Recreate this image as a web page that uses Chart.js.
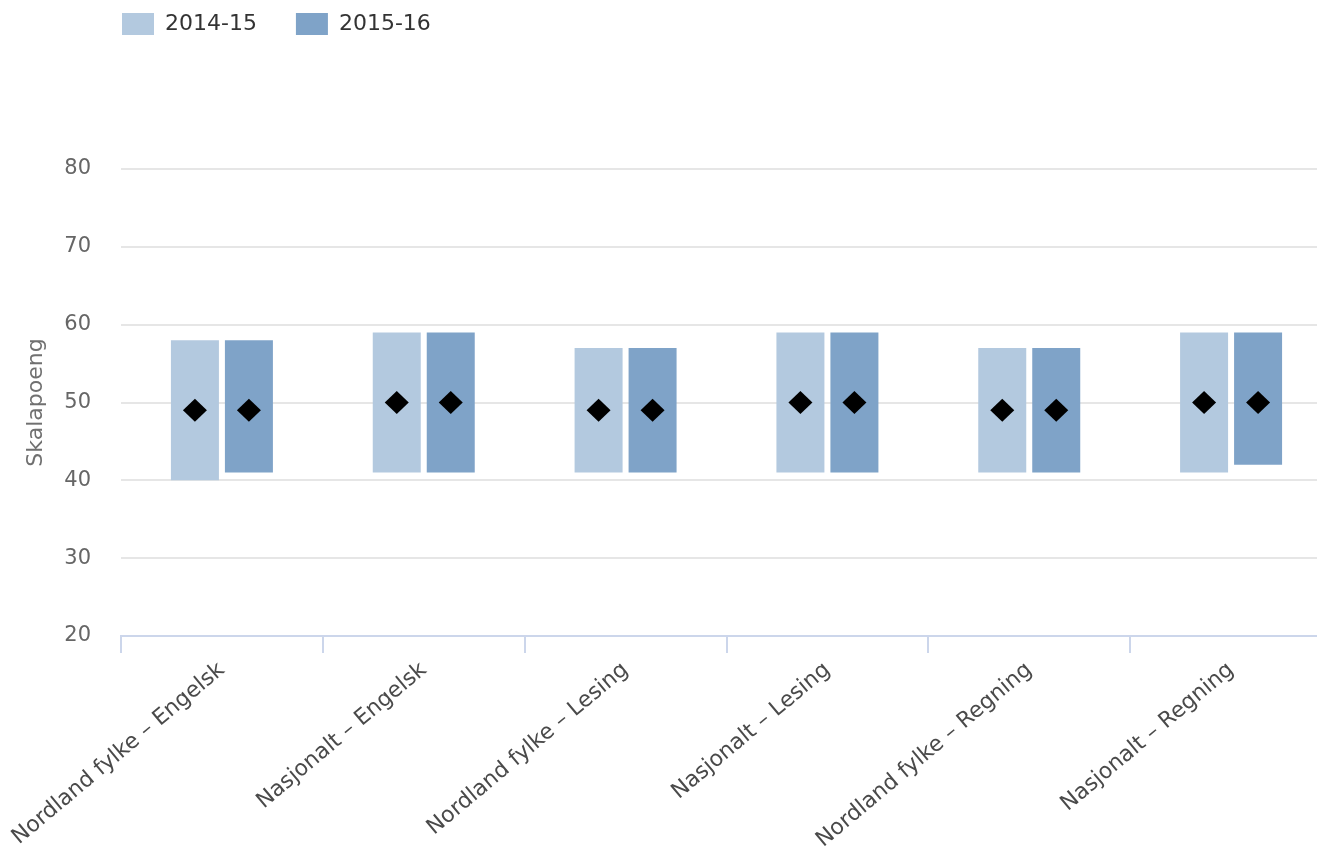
<!DOCTYPE html>
<html>
<head>
<meta charset="utf-8">
<script src="https://cdn.jsdelivr.net/npm/chart.js@4/dist/chart.umd.min.js"></script>
<style>
  html, body { margin: 0; padding: 0; overflow: hidden; background: #ffffff; }
  #wrap { width: 1332px; height: 857px; position: relative; }
</style>
</head>
<body>
<div id="wrap"><canvas id="chart"></canvas></div>
<script>
// Categories on the x axis
const categories = [
  'Nordland fylke – Engelsk',
  'Nasjonalt – Engelsk',
  'Nordland fylke – Lesing',
  'Nasjonalt – Lesing',
  'Nordland fylke – Regning',
  'Nasjonalt – Regning'
];
const seriesNames = ['2014-15', '2015-16'];

// Range (low–high) and mean per category, school year 2014-15
const low2014  = [40, 41, 41, 41, 41, 41];
const high2014 = [58, 59, 57, 59, 57, 59];
const mean2014 = [49, 50, 49, 50, 49, 50];

// Range (low–high) and mean per category, school year 2015-16
const low2015  = [41, 41, 41, 41, 41, 42];
const high2015 = [58, 59, 57, 59, 57, 59];
const mean2015 = [49, 50, 49, 50, 49, 50];

// Y axis
const yMin = 20, yMax = 80, yStep = 10;
const yTitle = 'Skalapoeng';

const FONT = 'DejaVu Sans';
const seriesColors = ['#b3c9df', '#7fa3c8'];
const means = [mean2014, mean2015];

const ranges = (lo, hi) => lo.map((v, i) => [v, hi[i]]);

// Black diamond at each bar's mean value
const meanDiamonds = {
  id: 'meanDiamonds',
  afterDatasetsDraw(chart) {
    const { ctx } = chart;
    const y = chart.scales.y;
    chart.data.datasets.forEach((ds, d) => {
      const meta = chart.getDatasetMeta(d);
      if (meta.hidden) return;
      meta.data.forEach((bar, i) => {
        const cx = bar.x;
        const cy = y.getPixelForValue(means[d][i]);
        ctx.save();
        ctx.beginPath();
        ctx.moveTo(cx, cy - 11.5);
        ctx.lineTo(cx + 12, cy);
        ctx.lineTo(cx, cy + 11.5);
        ctx.lineTo(cx - 12, cy);
        ctx.closePath();
        ctx.fillStyle = '#000000';
        ctx.fill();
        ctx.restore();
      });
    });
  }
};

// Place the legend row above the plot's left edge
const legendPlacement = {
  id: 'legendPlacement',
  afterLayout(chart) {
    const lg = chart.legend;
    if (!lg) return;
    lg.left += 83; lg.right += 83;
    lg.top -= 26; lg.bottom -= 26;
  }
};

new Chart(document.getElementById('chart'), {
  type: 'bar',
  data: {
    labels: categories,
    datasets: [
      {
        label: seriesNames[0],
        data: ranges(low2014, high2014),
        backgroundColor: seriesColors[0],
        borderSkipped: false,
        barPercentage: 0.889,
        categoryPercentage: 0.535
      },
      {
        label: seriesNames[1],
        data: ranges(low2015, high2015),
        backgroundColor: seriesColors[1],
        borderSkipped: false,
        barPercentage: 0.889,
        categoryPercentage: 0.535
      }
    ]
  },
  options: {
    responsive: true,
    maintainAspectRatio: false,
    animation: false,
    layout: { padding: 0 },
    plugins: {
      tooltip: { enabled: false },
      legend: {
        position: 'top',
        align: 'start',
        labels: {
          boxWidth: 32,
          boxHeight: 22,
          padding: 39,
          color: '#333333',
          font: { family: FONT, size: 22 }
        }
      },
      title: {
        display: true,
        text: '',
        weight: 500,
        font: { family: FONT, size: 10, lineHeight: 1 },
        padding: { top: 0, bottom: 88 }
      }
    },
    scales: {
      x: {
        type: 'category',
        offset: true,
        grid: {
          offset: true,
          drawOnChartArea: false,
          color: '#ccd6eb',
          lineWidth: 2,
          tickLength: 17
        },
        border: { color: '#ccd6eb', width: 2 },
        ticks: {
          minRotation: 40,
          maxRotation: 40,
          autoSkip: false,
          color: '#4a4a4a',
          padding: 4,
          font: { family: FONT, size: 22 }
        },
        afterFit(scale) { scale.height = 221; }
      },
      y: {
        min: yMin,
        max: yMax,
        ticks: {
          stepSize: yStep,
          color: '#666666',
          padding: 30,
          font: { family: FONT, size: 21 }
        },
        grid: {
          color: '#e6e6e6',
          lineWidth: 2,
          drawTicks: false
        },
        border: { display: false },
        title: {
          display: true,
          text: yTitle,
          color: '#707070',
          font: { family: FONT, size: 22, lineHeight: 1.2 },
          padding: { top: 23, bottom: 0 }
        },
        afterFit(scale) { scale.width = 121; }
      }
    }
  },
  plugins: [meanDiamonds, legendPlacement]
});
</script>
</body>
</html>
